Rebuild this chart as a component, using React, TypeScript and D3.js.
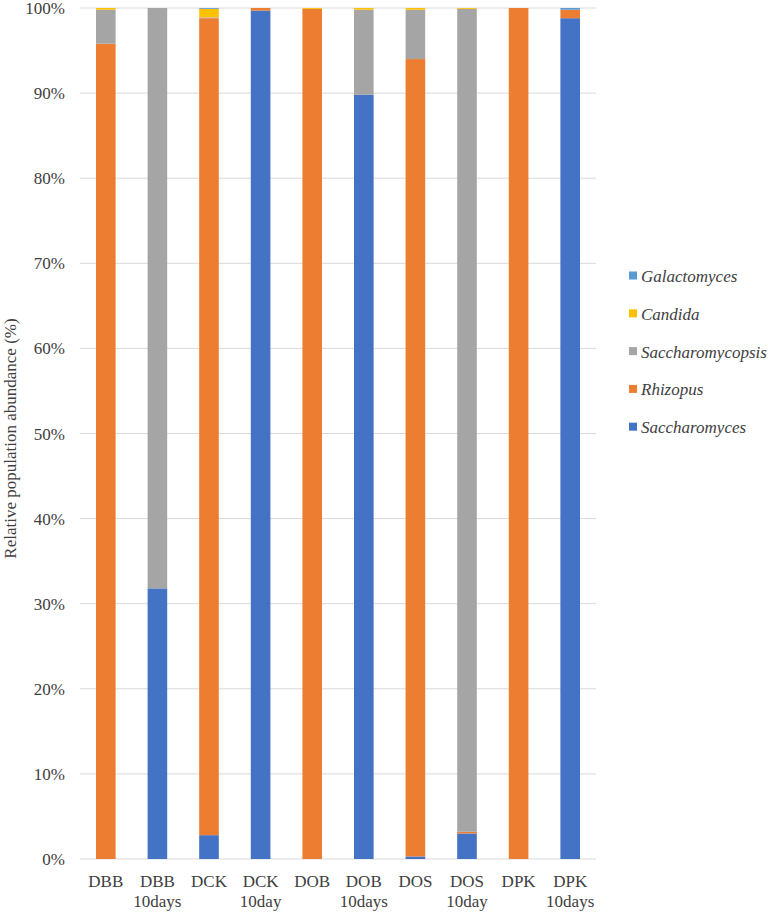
import * as d3 from 'd3';
import React from 'react';

// categories along the x axis (second line of label after \n)
const categories = ['DBB', 'DBB\n10days', 'DCK', 'DCK\n10day', 'DOB', 'DOB\n10days', 'DOS', 'DOS\n10day', 'DPK', 'DPK\n10days'];

// stacked series, bottom to top (percent)
const saccharomyces = [0, 31.8, 2.8, 99.7, 0, 89.8, 0.3, 3.0, 0, 98.8];
const rhizopus = [95.8, 0, 96.0, 0.3, 99.9, 0, 93.7, 0.2, 100, 1.0];
const saccharomycopsis = [4.0, 68.2, 0.1, 0, 0, 10.0, 5.8, 96.7, 0, 0];
const candida = [0.2, 0, 1.0, 0, 0.1, 0.2, 0.2, 0.1, 0, 0];
const galactomyces = [0, 0, 0.1, 0, 0, 0, 0, 0, 0, 0.2];

const seriesNames = ['Saccharomyces', 'Rhizopus', 'Saccharomycopsis', 'Candida', 'Galactomyces'];
const seriesValues = [saccharomyces, rhizopus, saccharomycopsis, candida, galactomyces];
const colors = ['#4472C4', '#ED7D31', '#A5A5A5', '#FFC000', '#5B9BD5'];

const yTicks = [0, 10, 20, 30, 40, 50, 60, 70, 80, 90, 100];

const FONT = 'Liberation Serif';

export default function App() {
    const width = 768;
    const height = 913;
    const margin = { top: 8, left: 80, right: 172, bottom: 54 };
    const innerW = width - margin.left - margin.right;
    const innerH = height - margin.top - margin.bottom;
    const fs = 17;
    const textColor = '#404040';

    const xScale = d3.scaleBand().domain(categories).range([0, innerW]).paddingInner(0.62).paddingOuter(0.31);
    const yScale = d3.scaleLinear().domain([0, 100]).range([innerH, 0]);

    const rows = categories.map((c, i) => {
        const row: any = { cat: c };
        seriesNames.forEach((s, j) => { row[s] = seriesValues[j][i]; });
        return row;
    });
    const stacked = d3.stack().keys(seriesNames)(rows);

    const legendOrder = [...seriesNames].reverse();

    const txt = { fontFamily: FONT, fontSize: fs + 'px', fill: textColor };

    return (
        <svg width={width} height={height} fontFamily={FONT} style={{ position: 'absolute', left: 0, top: 0, fontFamily: FONT }}>
            <g transform={`translate(${margin.left}, ${margin.top})`}>
                {/* grid */}
                {yTicks.map((t) => (
                    <line key={'g' + t} x1={0} x2={innerW} y1={yScale(t)} y2={yScale(t)} stroke="#d9d9d9" strokeWidth={1} />
                ))}
                {/* y tick labels */}
                {yTicks.map((t) => (
                    <text key={'t' + t} x={-15} y={yScale(t) + 6} textAnchor="end" fontFamily={FONT} style={txt}>{`${t}%`}</text>
                ))}
                {/* stacked bars */}
                {stacked.map((layer: any, i: number) => (
                    <g key={layer.key} fill={colors[i]}>
                        {layer.map((d: any) => {
                            const top = yScale(Math.min(d[1], 100));
                            const h = Math.max(0, yScale(d[0]) - top);
                            return <rect key={d.data.cat} x={xScale(d.data.cat) as number} width={xScale.bandwidth()} y={top} height={h} />;
                        })}
                    </g>
                ))}
                {/* x labels */}
                {categories.map((c) => (
                    <text key={'x' + c} transform={`translate(${(xScale(c) as number) + xScale.bandwidth() / 2}, ${innerH + 28})`}
                        textAnchor="middle" fontFamily={FONT} style={txt}>
                        {c.split('\n').map((line, i) => (
                            <tspan key={i} x={0} dy={i === 0 ? 0 : 20} fontFamily={FONT}>{line}</tspan>
                        ))}
                    </text>
                ))}
            </g>
            {/* y axis title */}
            <text transform={`translate(16, ${margin.top + innerH / 2 + 5}) rotate(-90)`} textAnchor="middle" fontFamily={FONT} style={txt}>
                Relative population abundance (%)
            </text>
            {/* legend */}
            {legendOrder.map((s, i) => (
                <g key={s} transform={`translate(629, ${276 + i * 37.8})`}>
                    <rect x={0} y={-4.5} width={8} height={8} fill={colors[seriesNames.indexOf(s)]} />
                    <text x={12} y={6} fontStyle="italic" fontFamily={FONT} style={{ ...txt, fontStyle: 'italic' }}>{s}</text>
                </g>
            ))}
        </svg>
    );
}
